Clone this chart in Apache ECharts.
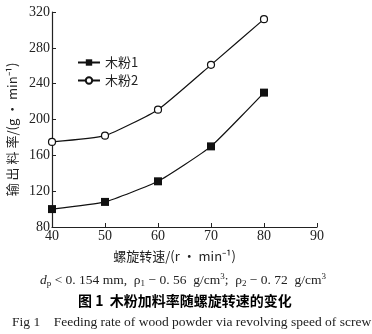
<!DOCTYPE html>
<html><head><meta charset="utf-8">
<script src="https://cdn.jsdelivr.net/npm/echarts@6/dist/echarts.min.js"></script>
<style>html,body{margin:0;padding:0;background:#fff}#c{width:372px;height:334px}</style>
</head><body><div id="c"></div>
<script>
const categories = [40, 50, 60, 70, 80];
const seriesNames = ['木粉1', '木粉2'];
const wood1 = [100, 108, 131, 170, 230];
const wood2 = [175, 182, 211, 261, 312];
const xTicks = [40, 50, 60, 70, 80, 90];
const yTicks = [80, 120, 160, 200, 240, 280, 320];

const chart = echarts.init(document.getElementById('c'));
const serif = '"Liberation Serif","DejaVu Serif",serif';
const cjk = '"Noto Sans CJK SC","Liberation Serif",serif';
const col = '#222';
chart.setOption({
  animation: false,
  backgroundColor: '#fff',
  grid: { left: 52, top: 12, right: 55, bottom: 107, containLabel: false, outerBoundsMode: 'none' },
  xAxis: {
    type: 'value', min: xTicks[0], max: xTicks[xTicks.length-1], interval: 10,
    axisLine: { lineStyle: { color: col, width: 1.2 } },
    axisTick: { inside: true, length: 4, lineStyle: { color: col } },
    axisLabel: { color: col, fontFamily: serif, fontSize: 14, margin: 2 },
    splitLine: { show: false },
    name: '螺旋转速/(r · min⁻¹)', nameLocation: 'middle', nameGap: 23,
    nameTextStyle: { color: col, fontFamily: cjk, fontSize: 13, padding: [0, 20, 0, 0] }
  },
  yAxis: {
    type: 'value', min: yTicks[0], max: yTicks[yTicks.length-1], interval: 40,
    axisLine: { show: true, lineStyle: { color: col, width: 1.2 } },
    axisTick: { show: true, inside: true, length: 4, lineStyle: { color: col } },
    axisLabel: { color: col, fontFamily: serif, fontSize: 14, margin: 2 },
    splitLine: { show: false },
    name: '输 出 料 率/(g · min⁻¹)', nameLocation: 'middle', nameGap: 29, nameRotate: 90,
    nameTextStyle: { color: col, fontFamily: cjk, fontSize: 13, padding: [0, 20, 0, 0] }
  },
  legend: {
    orient: 'vertical', left: 72, top: 51, itemWidth: 22, itemHeight: 8, itemGap: 5,
    textStyle: { color: col, fontFamily: cjk, fontSize: 13 },
    data: seriesNames
  },
  series: [
    { name: seriesNames[0], type: 'line', smooth: 0.15,
      data: categories.map((c,i)=>[c, wood1[i]]),
      symbol: 'rect', symbolSize: 8,
      itemStyle: { color: '#111' }, lineStyle: { color: '#111', width: 1.2 } },
    { name: seriesNames[1], type: 'line', smooth: 0.15,
      data: categories.map((c,i)=>[c, wood2[i]]),
      symbol: 'circle', symbolSize: 7,
      itemStyle: { color: '#fff', borderColor: '#111', borderWidth: 1.2 }, lineStyle: { color: '#111', width: 1.2 } }
  ],
  graphic: [
    { type: 'text', left: 40, top: 272,
      style: { text: '{i|d}{s|p} < 0. 154 mm,  ρ{s|1} − 0. 56  g/cm{u|3};  ρ{s|2} − 0. 72  g/cm{u|3}',
        font: '13.5px ' + serif, fill: col,
        rich: { i: { fontStyle: 'italic', fontFamily: serif, fontSize: 13.5 },
                s: { fontSize: 9, fontFamily: serif, padding: [7,0,0,0] },
                u: { fontSize: 9, fontFamily: serif, padding: [0,0,7,0] } } } },
    { type: 'text', left: 78, top: 294,
      style: { text: '图 1  木粉加料率随螺旋转速的变化', font: 'bold 14px ' + cjk, fill: '#000' } },
    { type: 'text', left: 12, top: 315,
      style: { text: 'Fig 1    Feeding rate of wood powder via revolving speed of screw', font: '13.5px ' + serif, fill: col } }
  ]
});
</script></body></html>
